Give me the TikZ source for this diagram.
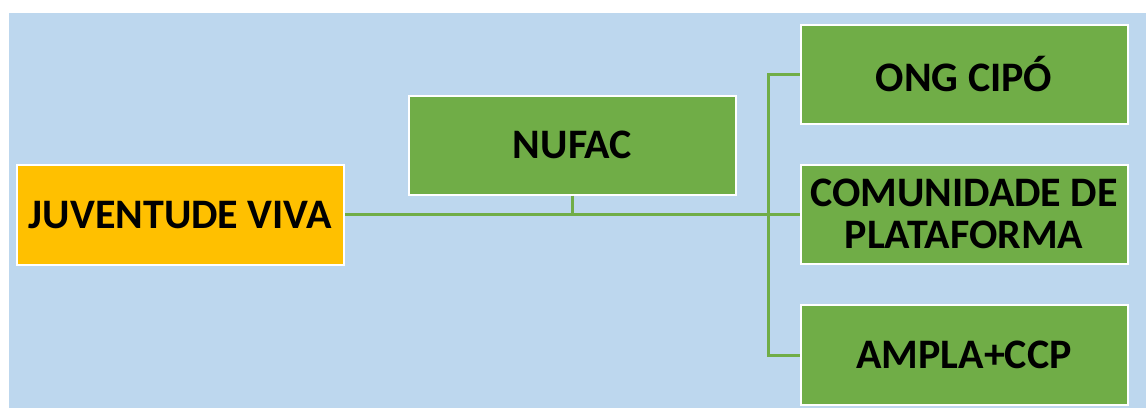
\documentclass[tikz,border=0pt]{standalone}
\usepackage{fontspec}
\setmainfont{Carlito}
\definecolor{bgblue}{HTML}{BDD7EE}
\definecolor{boxgreen}{HTML}{70AD47}
\definecolor{boxgold}{HTML}{FFC000}
\begin{document}
\begin{tikzpicture}[x=1pt,y=1pt,
  box/.style={draw=white, line width=2pt, fill=boxgreen, minimum width=327pt, minimum height=99pt,
    inner sep=0pt, align=center, font=\fontsize{42}{42}\selectfont\bfseries, text=black},
  link/.style={draw=boxgreen, line width=3pt}]
\useasboundingbox (0,0) rectangle (1146,408);
\fill[bgblue] (9,0) rectangle (1146,395);
\node[box, fill=boxgold, minimum height=100pt] (jv) at (180.5,193) {JUVENTUDE VIVA};
\node[box] (nufac) at (572.5,263) {NUFAC};
\node[box] (ong) at (964,333.5) {ONG CIPÓ};
\node[box] (com) at (964,194) {COMUNIDADE DE\\[0pt]PLATAFORMA};
\node[box, minimum height=100pt] (amp) at (964,53) {AMPLA+CCP};
\coordinate (bus) at (768,193);
\draw[link] (jv.east |- 0,194) -- (com.west |- 0,194);
\draw[link] (nufac.south) -- (nufac.south |- 0,194);
\draw[link] (ong.west) -- (ong.west -| bus) -- (amp.west -| bus) -- (amp.west);
\end{tikzpicture}
\end{document}
